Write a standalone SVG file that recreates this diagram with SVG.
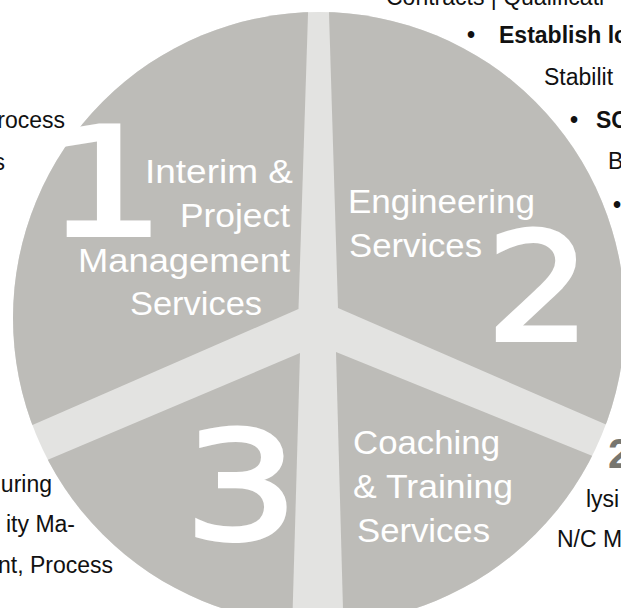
<svg xmlns="http://www.w3.org/2000/svg" width="621" height="608" viewBox="0 0 621 608">
<defs>
<clipPath id="disc"><circle cx="319" cy="318" r="306"/></clipPath>
<style>
.seg{fill:#bdbcb8}
.lbl{font-family:"Liberation Sans",Arial,sans-serif;font-size:34px;fill:#ffffff}
.num{font-family:"DejaVu Sans",sans-serif;font-size:150px;fill:#ffffff;stroke:#ffffff;stroke-width:4;stroke-linejoin:miter}
.txt{font-family:"Liberation Sans Narrow","Liberation Sans",Arial,sans-serif;font-size:23px;fill:#111111}
.b{font-weight:bold}
.gnum{font-family:"Liberation Sans",Arial,sans-serif;font-size:42px;font-weight:bold;fill:#77766f}
</style>
</defs>
<rect width="621" height="608" fill="#ffffff"/>
<circle id="disc-bg" cx="319" cy="318" r="306" fill="#e3e3e1"/>
<g id="connectors" clip-path="url(#disc)">
<polygon id="seg1-shape" class="seg" points="298.5,309 309.1,-20 -20,-20 -20,447.8"/>
<polygon id="seg2-shape" class="seg" points="338,308 328,-20 650,-20 650,443.7"/>
<polygon id="seg3-shape" class="seg" points="300,353 -20,488.5 -20,650 291.5,650"/>
<polygon id="seg4-shape" class="seg" points="336,352 650,479.2 650,650 344.1,650"/>
</g>
<g id="node1">
<text class="num" transform="translate(46,235) scale(1.25,1)">1</text>
<text class="lbl" x="145" y="183" textLength="148" lengthAdjust="spacingAndGlyphs">Interim &amp;</text>
<text class="lbl" x="180" y="227" textLength="110" lengthAdjust="spacingAndGlyphs">Project</text>
<text class="lbl" x="78" y="272" textLength="212" lengthAdjust="spacingAndGlyphs">Management</text>
<text class="lbl" x="130" y="315" textLength="132" lengthAdjust="spacingAndGlyphs">Services</text>
</g>
<g id="node2">
<text class="num" transform="translate(486,340) scale(1.1,1)">2</text>
<text class="lbl" x="348" y="213" textLength="187" lengthAdjust="spacingAndGlyphs">Engineering</text>
<text class="lbl" x="349" y="257" textLength="133" lengthAdjust="spacingAndGlyphs">Services</text>
</g>
<g id="node3">
<text class="num" transform="translate(184,539) scale(1.2,1)">3</text>
<text class="lbl" x="353" y="454" textLength="147" lengthAdjust="spacingAndGlyphs">Coaching</text>
<text class="lbl" x="353" y="498" textLength="160" lengthAdjust="spacingAndGlyphs">&amp; Training</text>
<text class="lbl" x="357" y="542" textLength="133" lengthAdjust="spacingAndGlyphs">Services</text>
</g>
<g id="side-texts">
<text class="txt" x="386" y="5">Contracts | Qualificati</text>
<text class="txt b" x="467" y="43">•</text>
<text class="txt b" x="499" y="43">Establish lo</text>
<text class="txt" x="544" y="85">Stabilit</text>
<text class="txt b" x="570" y="128">•</text>
<text class="txt b" x="596" y="128">SO</text>
<text class="txt" x="608" y="169">B</text>
<text class="txt b" x="613" y="213">•</text>
<text class="gnum" x="608" y="468">2</text>
<text class="txt" x="586" y="507">lysi</text>
<text class="txt" x="557" y="547">N/C M</text>
<text class="txt" x="65" y="128" text-anchor="end">rocess</text>
<text class="txt" x="5" y="170" text-anchor="end">s</text>
<text class="txt" x="52" y="492" text-anchor="end">uring</text>
<text class="txt" x="75" y="532" text-anchor="end">ity Ma-</text>
<text class="txt" x="113" y="573" text-anchor="end">nt, Process</text>
</g>
</svg>
